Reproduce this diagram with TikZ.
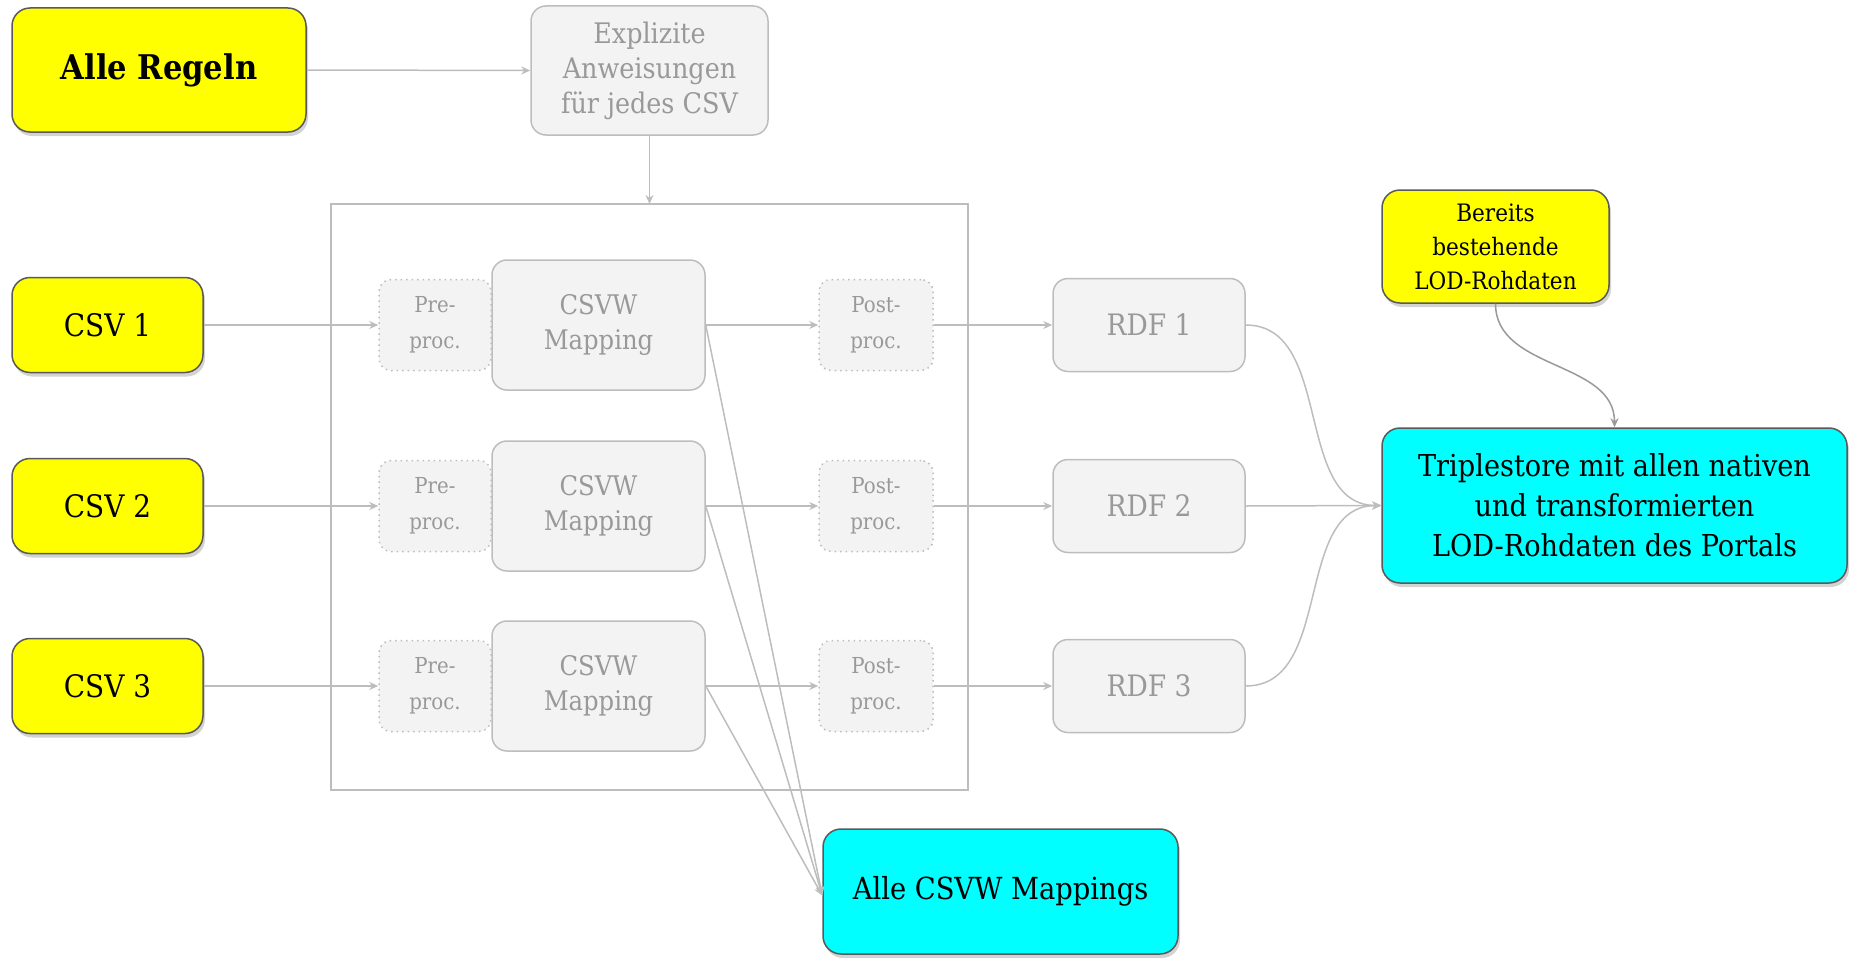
\documentclass[tikz,border=0pt]{standalone}
\usepackage{fontspec}
\setmainfont{DejaVu Serif Condensed}
\usetikzlibrary{arrows.meta,shadows}
\definecolor{gfill}{HTML}{F3F3F3}
\definecolor{gline}{HTML}{BDBDBD}
\definecolor{gtext}{HTML}{999999}
\definecolor{ybox}{HTML}{FFFF00}
\definecolor{cbox}{HTML}{00FFFF}
\definecolor{dline}{HTML}{595959}
\definecolor{cline}{HTML}{999999}
\begin{document}
\begin{tikzpicture}[x=1pt,y=-1pt,
  graybox/.style={draw=gline, line width=1.5pt, fill=gfill, rounded corners=15pt, text=gtext, align=center, inner sep=0pt},
  dotbox/.style={draw=gline, dash pattern=on 1.5pt off 4pt, line width=1.5pt, fill=gfill, rounded corners=12pt, text=gtext, align=center, inner sep=0pt},
  colbox/.style={draw=dline, line width=1.5pt, rounded corners=18pt, align=center, inner sep=0pt,
     drop shadow={opacity=0.35, shadow xshift=2pt, shadow yshift=-4pt}},
  conn/.style={draw=gline, line width=1.5pt, -{Stealth[length=9pt,width=8pt]}},
  fbig/.style={font=\fontsize{28}{35}\selectfont},
  fsmall/.style={font=\fontsize{22}{36}\selectfont},
]
\useasboundingbox (0,0) rectangle (1851,958);

% frame
\draw[draw=gline, line width=1.5pt] (331,204) rectangle (968,790);

% top
\node[colbox, fill=ybox, minimum width=294pt, minimum height=124pt, font=\fontsize{34}{40}\selectfont\bfseries] (rules) at (159,70) {Alle Regeln};
\node[graybox, minimum width=237pt, minimum height=129pt, font=\fontsize{28.3}{35}\selectfont] (expl) at (649.5,70.5) {Explizite\\Anweisungen\\für jedes CSV};
\coordinate (ftop) at (649.5,204);

% rows
\foreach \i/\y in {1/325, 2/506, 3/686}{
  \node[colbox, fill=ybox, minimum width=191pt, minimum height=95pt, font=\fontsize{31}{36}\selectfont] (csv\i) at (107.5,\y) {CSV \i};
  \node[dotbox, minimum width=112pt, minimum height=91pt, fsmall] (pre\i) at (435,\y) {Pre-\\proc.};
  \node[graybox, minimum width=213pt, minimum height=130pt, font=\fontsize{27}{35}\selectfont] (map\i) at (598.5,\y) {CSVW\\Mapping};
  \node[dotbox, minimum width=114pt, minimum height=91pt, fsmall] (post\i) at (876,\y) {Post-\\proc.};
  \node[graybox, minimum width=192pt, minimum height=93pt, font=\fontsize{29.5}{35}\selectfont] (rdf\i) at (1149,\y) {RDF \i};
}

\node[colbox, fill=ybox, minimum width=227pt, minimum height=113pt, font=\fontsize{24}{34}\selectfont] (ber) at (1495.5,246.5) {Bereits\\bestehende\\LOD-Rohdaten};
\node[colbox, fill=cbox, minimum width=465pt, minimum height=155pt, font=\fontsize{30.2}{40}\selectfont] (trip) at (1614.5,505.5) {Triplestore mit allen nativen\\und transformierten\\LOD-Rohdaten des Portals};
\node[colbox, fill=cbox, minimum width=355pt, minimum height=125pt, font=\fontsize{30.4}{36}\selectfont] (allmap) at (1000.5,891.5) {Alle CSVW Mappings};

% connectors
\draw[conn] (rules.east) -- (expl.west);
\draw[conn] (expl.south) -- (ftop);
\foreach \i in {1,2,3}{
  \draw[conn] (csv\i.east) -- (pre\i.west);
  \draw[conn] (map\i.east) -- (post\i.west);
  \draw[conn] (post\i.east) -- (rdf\i.west);
  \draw[conn] (map\i.east) -- ([yshift=-4pt]allmap.west);
}
\draw[conn] (rdf1.east) to[out=0,in=180] (trip.west);
\draw[conn] (rdf2.east) -- (trip.west);
\draw[conn] (rdf3.east) to[out=0,in=180] (trip.west);
\draw[draw=cline, line width=1.5pt, -{Stealth[length=9pt,width=8pt]}] (ber.south) to[out=-90,in=90] (trip.north);
\end{tikzpicture}
\end{document}
